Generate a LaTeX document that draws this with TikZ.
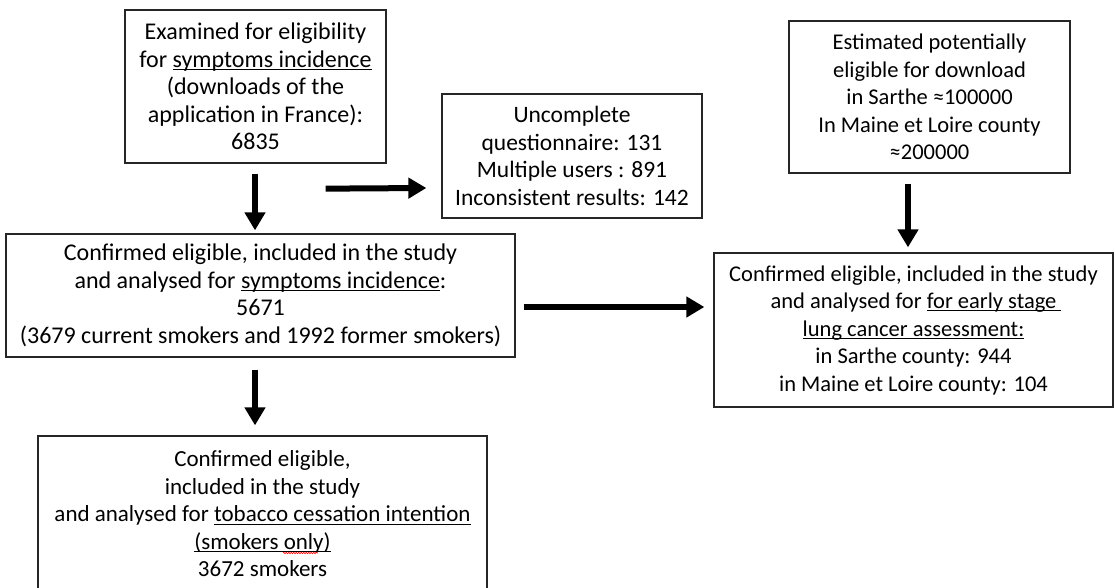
\documentclass[tikz,border=0pt]{standalone}
\usepackage{fontspec}
\setmainfont{Carlito}
\usetikzlibrary{arrows.meta,calc,decorations.pathmorphing}
\newlength\myulw
\newcommand\myul[1]{\settowidth\myulw{#1}\rlap{\rule[-2.8pt]{\myulw}{1pt}}#1}
\tikzset{
  box/.style={draw=black!85, line width=1.3pt, align=center, inner sep=0pt},
  fs/.style={font=\fontsize{#1}{27.5}\selectfont},
  bigarrow/.style={line width=6pt, -{Triangle[width=20pt,length=18pt]}},
}
\begin{document}
\begin{tikzpicture}[x=1pt,y=1pt]
\useasboundingbox (0,0) rectangle (1116,-587);
\clip (0,0) rectangle (1116,-587);
\fill[white] (0,0) rectangle (1116,-587);

\node[box, fs=24, minimum width=261pt, minimum height=153pt] (b1) at (255.5,-86.5)
  {Examined for eligibility\\for \myul{symptoms incidence}\\(downloads of the\\application in France):\\6835};
\node[box, fs=23.5, minimum width=260pt, minimum height=124pt] (b2) at (572,-156)
  {Uncomplete\\questionnaire: 131\\Multiple users : 891\\Inconsistent results: 142};
\node[box, fs=22.5, minimum width=281pt, minimum height=152pt] (b3) at (929.5,-97)
  {Estimated potentially\\eligible for download\\in Sarthe ≈100000\\In Maine et Loire county\\≈200000};
\node[box, fs=24, minimum width=509pt, minimum height=123pt] (b4) at (260.5,-295.5)
  {Confirmed eligible, included in the study\\and analysed for \myul{symptoms incidence}:\\5671\\(3679 current smokers and 1992 former smokers)};
\node[box, fs=22.5, minimum width=399pt, minimum height=154pt] (b5) at (913.5,-330)
  {Confirmed eligible, included in the study\\and analysed for \myul{for early stage\ }\\\myul{lung cancer assessment:}\\in Sarthe county: 944\\in Maine et Loire county: 104};
\node[box, fs=23, minimum width=449pt, minimum height=156pt] (b6) at (262.5,-514)
  {Confirmed eligible,\\included in the study\\and analysed for \myul{tobacco cessation intention}\\\myul{(smokers only)}\\3672 smokers};

\draw[bigarrow] ($(b1.south)+(-0.5,-10)$) -- ($(b4.north)+(-5.5,3)$);
\draw[bigarrow] ($(b1.south east)+(-61,-25)$) -- ($(b2.west)+(-15,-32)$);
\draw[bigarrow] ($(b4.east)+(8,-11.5)$) -- ($(b5.west)+(-9,23)$);
\draw[bigarrow] ($(b4.south)+(-5.5,-12)$) -- ($(b6.north)+(-7.5,10)$);
\draw[bigarrow] ($(b3.south)+(-21.5,-10)$) -- ($(b5.north)+(-5.5,5)$);

\draw[red, line width=0.6pt, decorate, decoration={snake, amplitude=0.7pt, segment length=2.5pt}]
  (283,-553) -- (318,-553);
\end{tikzpicture}
\end{document}
